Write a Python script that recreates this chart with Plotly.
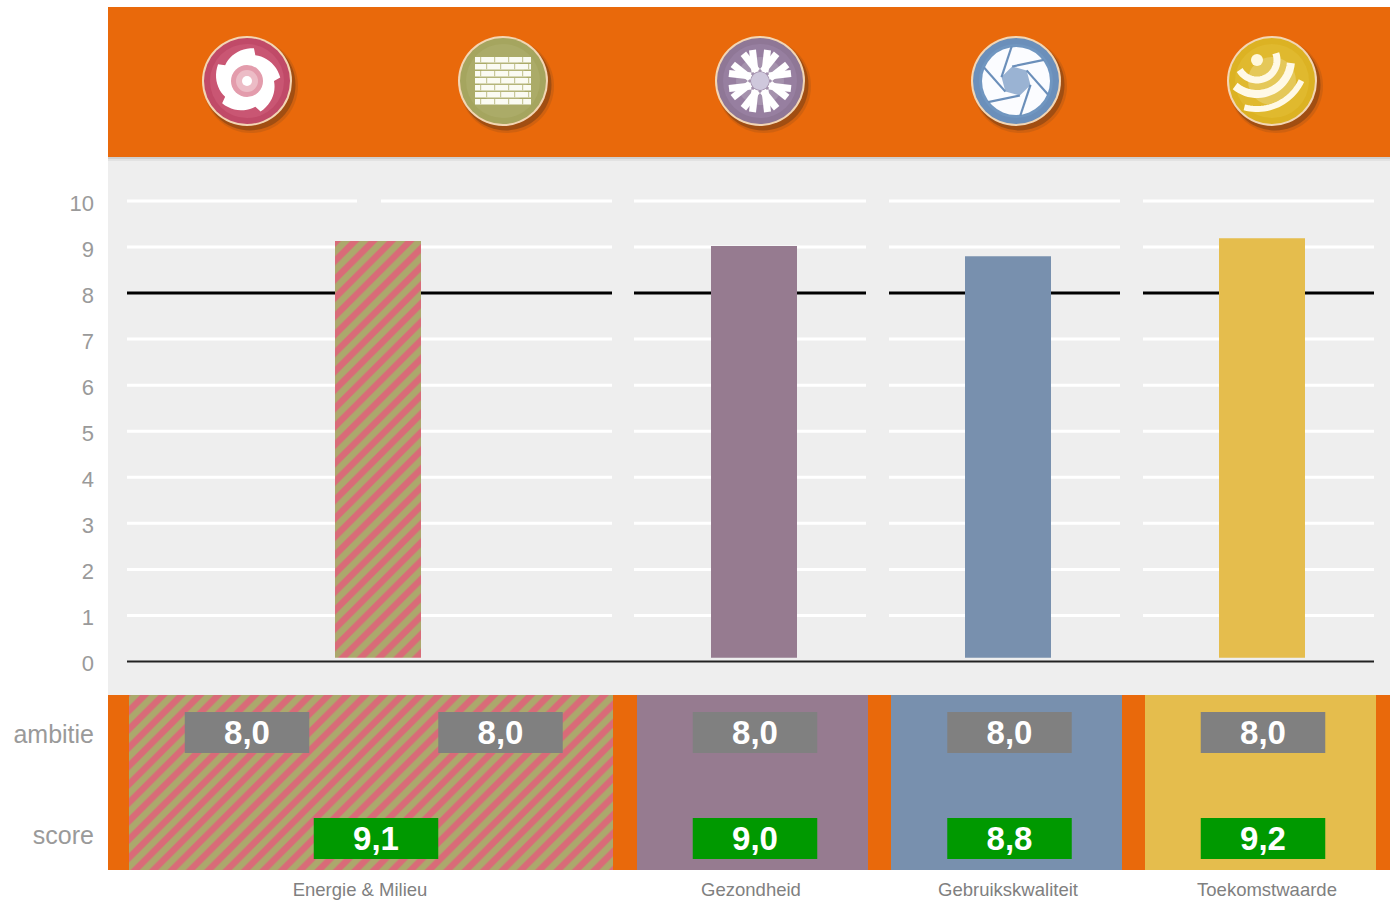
import math
import plotly.graph_objects as go

# ---------- data ----------
categories = ["Energie & Milieu", "Gezondheid", "Gebruikskwaliteit", "Toekomstwaarde"]
score_values = [9.13, 9.02, 8.8, 9.19]
score_labels = ["9,1", "9,0", "8,8", "9,2"]
ambition_values = [8.0, 8.0, 8.0, 8.0, 8.0]
ambition_labels = ["8,0", "8,0", "8,0", "8,0", "8,0"]
y_ticks = [0, 1, 2, 3, 4, 5, 6, 7, 8, 9, 10]
row_labels = ["ambitie", "score"]

ORANGE = "#e9690b"
PINK = "#d96b78"
OLIVE = "#aca86c"
MAUVE = "#967b90"
BLUE = "#7890ae"
YELLOW = "#e5bd4d"
GREY_TXT = "#9a9a9a"

W, H = 1390, 900
X0, UNIT = 246.0, 254.0     # pixel of column 0 and width of one column
Y0, YU = 661.5, 46.06       # pixel of value 0 and height of one score point
R0, RU = 732.5, 106.0       # pixel of row 0 and height of one row


def ux(px):
    return (px - X0) / UNIT


def px_x(px):
    return px / W


def px_y(py):
    return 1 - py / H


# positions in column units
bar_pos = [ux(378), ux(754), ux(1008), ux(1262)]
panel_pos = [ux(371), ux(752.5), ux(1006.5), ux(1260.5)]
panel_width = [484 / UNIT, 231 / UNIT, 231 / UNIT, 231 / UNIT]
amb_pos = [ux(247), ux(500.5), ux(755), ux(1009.5), ux(1263)]
score_pos = [ux(376), ux(755), ux(1009.5), ux(1263)]
label_pos = [ux(360), ux(751), ux(1008), ux(1267)]
fill_colors = [OLIVE, MAUVE, BLUE, YELLOW]

shapes = []


def rect(x0, y0, x1, y1, color, layer="below", op=1):
    shapes.append(dict(type="rect", xref="paper", yref="paper", x0=px_x(x0), x1=px_x(x1),
                       y0=px_y(y0), y1=px_y(y1), fillcolor=color, line_width=0,
                       layer=layer, opacity=op))


def circle(cx, cy, r, color, op=1, line=None, lw=0):
    shapes.append(dict(type="circle", xref="paper", yref="paper",
                       x0=px_x(cx - r), x1=px_x(cx + r), y0=px_y(cy + r), y1=px_y(cy - r),
                       fillcolor=color, opacity=op, layer="below",
                       line=dict(color=line or color, width=lw)))


def poly(points, color=None, line=None, lw=0, op=1, closed=True):
    d = "M " + " L ".join(f"{px_x(x):.5f},{px_y(y):.5f}" for x, y in points) + (" Z" if closed else "")
    shapes.append(dict(type="path", xref="paper", yref="paper", path=d,
                       fillcolor=color if color else "rgba(0,0,0,0)", opacity=op, layer="below",
                       line=dict(color=line or "rgba(0,0,0,0)", width=lw)))


# backgrounds
rect(108, 157, 1390, 695, "#eeeeee")
rect(108, 7, 1390, 157, ORANGE)
rect(108, 157, 1390, 159, "#cfcfcf")
rect(108, 159, 1390, 161, "#e2e2e2")
rect(108, 695, 1390, 870, ORANGE)


def base_icon(cx, cy, outer, mid, inner):
    circle(cx + 4, cy + 5, 47, "#8a4a1a", 0.25)
    circle(cx + 3, cy + 4, 45.5, "#7a4015", 0.55)
    circle(cx, cy, 45, "#f3d6b4")
    circle(cx, cy, 43, outer)
    circle(cx, cy, 37, mid)
    circle(cx, cy, 24, inner)


# icon 1: flower
cx, cy = 247, 81
base_icon(cx, cy, "#c04a68", "#c95673", "#cf6580")
pts = []
for i in range(60):
    a = 2 * math.pi * i / 60
    saw = ((a * 5 / (2 * math.pi)) % 1)
    pts.append((cx + (27 + 7 * saw) * math.cos(a), cy + (27 + 7 * saw) * math.sin(a)))
poly(pts, "#ffffff")
circle(cx, cy, 16, "#e39cac")
circle(cx, cy, 11, "#ecbcc6")
circle(cx, cy, 5, "#ffffff")

# icon 2: bricks
cx, cy = 503, 81
base_icon(cx, cy, "#a5a55f", "#abab68", "#b5b57a")
for r in range(7):
    ry = 57 + r * 7
    offs = [0, 6, 0, 6, 0, 6, 0][r]
    rect(475, ry, 531, ry + 5.4, "#fbfbf2")
    for gx in range(480 + offs, 531, 14):
        rect(gx, ry, gx + 1.2, ry + 5.4, "#c9c99b")

# icon 3: star
cx, cy = 760, 81
base_icon(cx, cy, "#8f7796", "#977fa0", "#a592ad")
for k in range(8):
    a = k * math.pi / 4
    c, s = math.cos(a), math.sin(a)
    n = (-s, c)
    for off in (-5, 5):
        p0 = (cx + c * 9 + n[0] * off, cy + s * 9 + n[1] * off)
        p1 = (cx + c * 31 + n[0] * off * 1.5, cy + s * 31 + n[1] * off * 1.5)
        poly([p0, p1], line="#ffffff", lw=7, closed=False)
circle(cx, cy, 9, "#cfc8dc")

# icon 4: shutter
cx, cy = 1016, 81
base_icon(cx, cy, "#6b8fba", "#7096c0", "#7f9fc6")
circle(cx, cy, 34, "#fbfcff")
hexa = [(cx + 15 * math.cos(math.radians(60 * k + 15)), cy + 15 * math.sin(math.radians(60 * k + 15)))
        for k in range(6)]
poly(hexa, "#9ab3d3")
for k in range(6):
    a = math.radians(60 * k + 15)
    b = a + math.radians(68)
    poly([hexa[k], (cx + 35 * math.cos(b), cy + 35 * math.sin(b))],
         line="#6b8fba", lw=2.2, closed=False)

# icon 5: ball
cx, cy = 1272, 81
base_icon(cx, cy, "#dcb223", "#e0b92e", "#e5c859")
fx, fy = 1257, 60
circle(fx, fy, 6, "#fff8dc")
for rad, a0, a1, lw in ((20, -20, 150, 7), (34, 5, 130, 8), (49, 25, 105, 6)):
    arc = [(fx + rad * math.cos(math.radians(a0 + (a1 - a0) * i / 24)),
            fy + rad * math.sin(math.radians(a0 + (a1 - a0) * i / 24))) for i in range(25)]
    poly(arc, line="#fff9e6", lw=lw, closed=False)


# grid lines, referenced to the chart's own axes
def hline(value, px0, px1, color, width):
    shapes.append(dict(type="line", xref="x", yref="y", x0=ux(px0), x1=ux(px1), y0=value, y1=value,
                       line=dict(color=color, width=width), layer="below"))


segments = [(127, 612), (634, 866), (889, 1120), (1143, 1374)]
for v in y_ticks[1:]:
    for a, b in segments:
        if v == 10 and a == 127:
            hline(v, 127, 357, "#ffffff", 3)
            hline(v, 381, 612, "#ffffff", 3)
        elif v == 8:
            hline(v, a, b, "#000000", 3)
        else:
            hline(v, a, b, "#ffffff", 3)
hline(0, 127, 1374, "#222222", 2)

fig = go.Figure()
pattern = dict(shape="/", fgcolor=PINK, bgcolor=OLIVE, fgopacity=1, size=13, solidity=0.5, fillmode="replace")

bar_base = 0.08
scores_above_base = [v - bar_base for v in score_values]
fig.add_trace(go.Bar(
    x=bar_pos[:1], y=scores_above_base[:1], base=bar_base, width=86 / UNIT,
    marker=dict(color=OLIVE, pattern=pattern, line_width=0), hoverinfo="skip"))
fig.add_trace(go.Bar(
    x=bar_pos[1:], y=scores_above_base[1:], base=bar_base, width=86 / UNIT,
    marker=dict(color=fill_colors[1:], line_width=0), hoverinfo="skip"))

# lower table
fig.add_trace(go.Bar(
    x=panel_pos[:1], y=[2.0], base=-0.5, width=panel_width[:1], xaxis="x2", yaxis="y2",
    marker=dict(color=OLIVE, pattern=pattern, line_width=0), hoverinfo="skip"))
fig.add_trace(go.Bar(
    x=panel_pos[1:], y=[2.0] * 3, base=-0.5, width=panel_width[1:], xaxis="x2", yaxis="y2",
    marker=dict(color=fill_colors[1:], line_width=0), hoverinfo="skip"))

box_h = 41 / RU
text_font = dict(family="Liberation Sans", size=33, color="#ffffff", weight=700)
fig.add_trace(go.Bar(
    x=amb_pos, y=[box_h] * 5, base=-box_h / 2, width=124.5 / UNIT, xaxis="x2", yaxis="y2",
    marker=dict(color="#808080", line_width=0), text=ambition_labels, textposition="inside",
    insidetextanchor="middle", textangle=0, constraintext="none", textfont=text_font,
    hoverinfo="skip"))
fig.add_trace(go.Bar(
    x=score_pos, y=[box_h] * 4, base=1 - box_h / 2, width=124.5 / UNIT, xaxis="x2", yaxis="y2",
    marker=dict(color="#009900", line_width=0), text=score_labels, textposition="inside",
    insidetextanchor="middle", textangle=0, constraintext="none", textfont=text_font,
    hoverinfo="skip"))

x_range = [ux(108), ux(1390)]
fig.update_layout(
    width=W, height=H, margin=dict(l=0, r=0, t=0, b=0), autosize=False,
    paper_bgcolor="#ffffff", plot_bgcolor="rgba(0,0,0,0)",
    barmode="overlay", showlegend=False, shapes=shapes,
    font=dict(family="Liberation Sans", color=GREY_TXT),
    xaxis=dict(domain=[108 / W, 1], range=x_range, showgrid=False, zeroline=False,
               showticklabels=False, ticks="", anchor="y"),
    yaxis=dict(domain=[1 - 695 / H, 1 - 157 / H], range=[(Y0 - 695) / YU, (Y0 - 157) / YU],
               tickvals=y_ticks, showgrid=False, zeroline=False, ticks="", anchor="x",
               tickfont=dict(size=22, color=GREY_TXT), ticklabelstandoff=13, ticklabelshift=2),
    xaxis2=dict(domain=[108 / W, 1], range=x_range, showgrid=False, zeroline=False, anchor="y2",
                tickvals=label_pos, ticktext=categories, ticks="", ticklabelstandoff=6,
                tickangle=0, tickfont=dict(size=18.5, color="#808080")),
    yaxis2=dict(domain=[1 - 870 / H, 1 - 695 / H], range=[(870 - R0) / RU, (695 - R0) / RU],
                tickvals=[0.015, 0.97], ticktext=row_labels, showgrid=False, zeroline=False,
                ticks="", anchor="x2", ticklabelstandoff=13,
                tickfont=dict(size=25, color=GREY_TXT)),
)

fig.write_html("out.html", config=dict(displayModeBar=False),
               post_script="document.body.style.margin='0';document.documentElement.style.overflow='hidden';")
